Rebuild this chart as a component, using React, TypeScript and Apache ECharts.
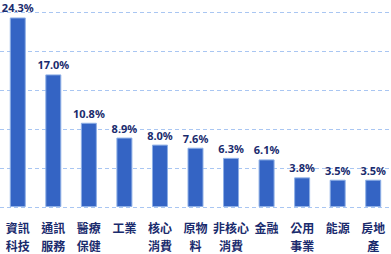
import React, { useEffect, useRef } from "react";
import * as echarts from "echarts";

const categories = ["資訊\n科技", "通訊\n服務", "醫療\n保健", "工業", "核心\n消費", "原物\n料", "非核心\n消費", "金融", "公用\n事業", "能源", "房地\n產"];
const values = [24.3, 17.0, 10.8, 8.9, 8.0, 7.6, 6.3, 6.1, 3.8, 3.5, 3.5];

export default function App() {
  const ref = useRef<HTMLDivElement>(null);
  useEffect(() => {
    const chart = echarts.init(ref.current!, null, { renderer: "svg" });
    chart.setOption({
      animation: false,
      textStyle: { fontFamily: "'Noto Sans CJK TC', 'Noto Sans', sans-serif" },
      grid: { left: 0, right: 0, top: 12, bottom: 42 },
      xAxis: {
        type: "category",
        data: categories,
        axisLine: { show: false },
        axisTick: { show: false },
        axisLabel: {
          interval: 0,
          color: "#1a2b6d",
          fontSize: 12,
          fontWeight: "bold",
          lineHeight: 18,
          margin: 11,
          fontFamily: "'Noto Sans CJK TC', sans-serif",
        },
      },
      yAxis: {
        type: "value",
        min: 0,
        max: 25,
        interval: 5,
        axisLabel: { show: false },
        axisLine: { show: false },
        axisTick: { show: false },
        splitLine: { show: true, lineStyle: { color: "#a9c6f2", type: [4, 3], width: 1 } },
      },
      series: [
        {
          type: "bar",
          data: values,
          barWidth: 16,
          itemStyle: { color: "#3464c4", borderColor: "#8fb0e6", borderWidth: 1 },
          label: {
            show: true,
            position: "top",
            distance: 4,
            formatter: (p: any) => p.value.toFixed(1) + "%",
            color: "#1a2b6d",
            fontSize: 11,
            fontWeight: "bold",
            fontFamily: "'Noto Sans', sans-serif",
          },
        },
      ],
    });
    return () => chart.dispose();
  }, []);
  return <div ref={ref} style={{ width: 391, height: 254, position: "absolute", left: 0, top: 0 }} />;
}
